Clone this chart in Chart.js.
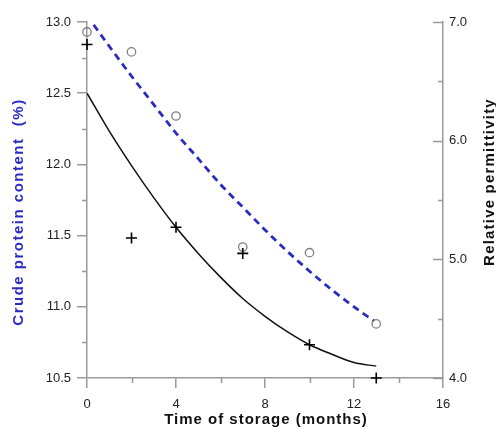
<!DOCTYPE html>
<html>
<head>
<meta charset="utf-8">
<script src="https://cdn.jsdelivr.net/npm/chart.js@4/dist/chart.umd.min.js"></script>
<style>
  html, body { margin: 0; padding: 0; background: #fff; }
  #c { display: block; }
</style>
</head>
<body>
<canvas id="c" width="496" height="428"></canvas>
<script>
// ---- Data ----
// Crude protein content (%) measurements (open circles, left axis)
const proteinMonths = [0, 2, 4, 7, 10, 13];
const proteinValues = [12.93, 12.79, 12.34, 11.42, 11.38, 10.88];
// Fitted crude protein curve (blue dashed)
const proteinFitMonths = [0.3, 1, 2, 3, 4, 5, 6, 7, 8, 9, 10, 11, 12, 12.9];
const proteinFitValues = [12.98, 12.83, 12.62, 12.42, 12.22, 12.04, 11.86, 11.70, 11.54, 11.39, 11.25, 11.12, 11.00, 10.90];
// Relative permittivity measurements (plus markers, right axis)
const permMonths = [0, 2, 4, 7, 10, 13];
const permValues = [6.81, 5.18, 5.27, 5.05, 4.28, 4.00];
// Fitted permittivity curve (black solid)
const permFitMonths = [0, 1, 2, 3, 4, 5, 6, 7, 8, 9, 10, 11, 12, 13];
const permFitValues = [6.40, 6.08, 5.79, 5.52, 5.27, 5.05, 4.85, 4.67, 4.52, 4.39, 4.28, 4.20, 4.13, 4.10];
// Tick positions
const xMinorTicks = [2, 6, 10, 14];
const leftMinorTicks = [10.75, 11.25, 11.75, 12.25, 12.75];
const rightMajorTicks = [4, 5, 6, 7];
const rightMinorTicks = [4.5, 5.5, 6.5];

const xTitle = 'Time of storage (months)';
const leftTitle = 'Crude protein content  (%)';
const rightTitle = 'Relative permittivity';

const FONT = '"Liberation Sans", Arial, sans-serif';
Chart.defaults.font.family = FONT;

const toXY = (xs, ys) => xs.map((x, i) => ({ x: x, y: ys[i] }));

const axisGrey = '#9a9a9a';

function drawTitle(ctx, text, x, y, rot, color, spacing) {
  ctx.save();
  ctx.fillStyle = color;
  ctx.font = 'bold 15px ' + FONT;
  ctx.letterSpacing = spacing;
  ctx.textAlign = 'center';
  ctx.textBaseline = 'middle';
  ctx.translate(x, y);
  ctx.rotate(rot);
  ctx.fillText(text, 0, 0);
  ctx.restore();
}

const extraTicks = {
  id: 'extraTicks',
  afterDraw(chart) {
    const ctx = chart.ctx;
    const sx = chart.scales.x, sy = chart.scales.y, sy1 = chart.scales.y1;
    const area = chart.chartArea;
    ctx.save();
    ctx.strokeStyle = axisGrey;
    ctx.lineWidth = 1.5;
    ctx.beginPath();
    xMinorTicks.forEach(v => {
      const px = Math.round(sx.getPixelForValue(v)) + 0.5;
      ctx.moveTo(px, area.bottom);
      ctx.lineTo(px, area.bottom + 5);
    });
    leftMinorTicks.forEach(v => {
      const py = Math.round(sy.getPixelForValue(v)) + 0.5;
      ctx.moveTo(area.left - 5, py);
      ctx.lineTo(area.left, py);
    });
    rightMajorTicks.forEach(v => {
      const py = Math.round(sy1.getPixelForValue(v)) + 0.5;
      ctx.moveTo(area.right - 10, py);
      ctx.lineTo(area.right, py);
    });
    rightMinorTicks.forEach(v => {
      const py = Math.round(sy1.getPixelForValue(v)) + 0.5;
      ctx.moveTo(area.right - 5, py);
      ctx.lineTo(area.right, py);
    });
    ctx.stroke();
    ctx.restore();
    // axis titles
    drawTitle(ctx, xTitle, (area.left + area.right) / 2 + 1, 420, 0, '#111', '1px');
    drawTitle(ctx, leftTitle, 19, 212, -Math.PI / 2, '#2b2bc4', '1.5px');
    drawTitle(ctx, rightTitle, 490, 182, -Math.PI / 2, '#111', '1.2px');
  }
};

new Chart(document.getElementById('c'), {
  type: 'scatter',
  data: {
    datasets: [
      {
        data: toXY(proteinFitMonths, proteinFitValues),
        yAxisID: 'y',
        showLine: true,
        borderColor: '#2b2bbd',
        borderWidth: 2.8,
        borderDash: [7, 5],
        pointRadius: 0,
        cubicInterpolationMode: 'monotone',
        fill: false,
        order: 4
      },
      {
        data: toXY(permFitMonths, permFitValues),
        yAxisID: 'y1',
        showLine: true,
        borderColor: '#111',
        borderWidth: 1.5,
        pointRadius: 0,
        cubicInterpolationMode: 'monotone',
        fill: false,
        order: 3
      },
      {
        data: toXY(proteinMonths, proteinValues),
        yAxisID: 'y',
        showLine: false,
        pointStyle: 'circle',
        pointRadius: 4.2,
        borderColor: '#808080',
        backgroundColor: 'rgba(255,255,255,0)',
        borderWidth: 1.3,
        clip: false,
        order: 2
      },
      {
        data: toXY(permMonths, permValues),
        yAxisID: 'y1',
        showLine: false,
        pointStyle: 'cross',
        pointRadius: 5.5,
        borderColor: '#000',
        borderWidth: 1.6,
        clip: false,
        order: 1
      }
    ]
  },
  options: {
    responsive: false,
    animation: false,
    layout: { padding: { top: 22, left: 0, right: 0, bottom: 0 } },
    plugins: { legend: { display: false }, tooltip: { enabled: false } },
    scales: {
      x: {
        type: 'linear',
        position: 'bottom',
        min: 0, max: 16,
        ticks: { stepSize: 4, color: '#222', font: { size: 13 }, padding: 9 },
        grid: { display: true, drawOnChartArea: false, drawTicks: true, tickLength: 10, color: axisGrey, lineWidth: 1.5 },
        border: { display: true, color: axisGrey, width: 1.5 },
        afterFit(s) { s.height = 50; }
      },
      y: {
        type: 'linear',
        position: 'left',
        min: 10.5, max: 13,
        ticks: { stepSize: 0.5, color: '#222', font: { size: 13 }, padding: 6, callback: v => v.toFixed(1) },
        grid: { display: true, drawOnChartArea: false, drawTicks: true, tickLength: 10, color: axisGrey, lineWidth: 1.5 },
        border: { display: true, color: axisGrey, width: 1.5 },
        afterFit(s) { s.width = 87; }
      },
      y1: {
        type: 'linear',
        position: 'right',
        min: 4, max: 7,
        ticks: { stepSize: 1, color: '#222', font: { size: 13 }, padding: 6, callback: v => v.toFixed(1) },
        grid: { display: false, drawOnChartArea: false, drawTicks: false },
        border: { display: true, color: axisGrey, width: 1.5 },
        afterFit(s) { s.width = 53; }
      }
    }
  },
  plugins: [extraTicks]
});
</script>
</body>
</html>
